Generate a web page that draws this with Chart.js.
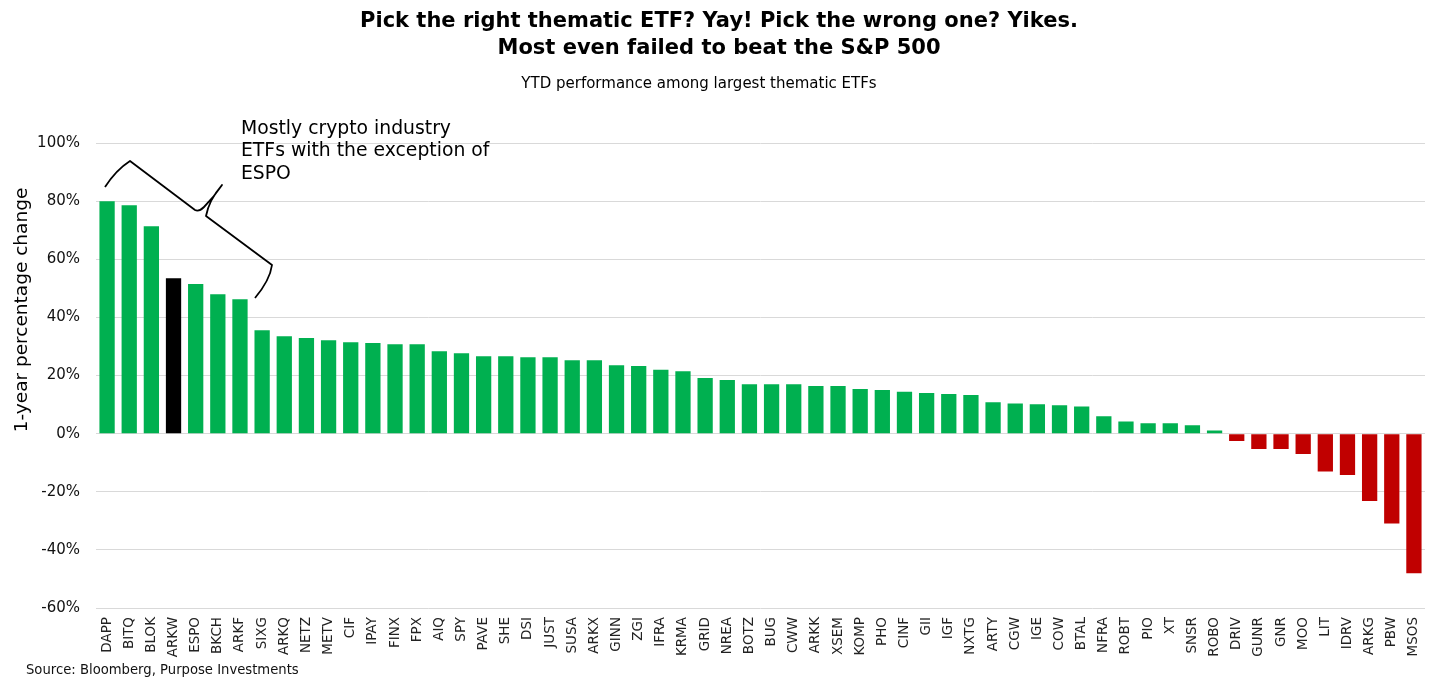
<!DOCTYPE html>
<html><head><meta charset="utf-8">
<style>html,body{margin:0;padding:0;background:#fff}canvas{display:block}</style>
<script src="https://cdn.jsdelivr.net/npm/chart.js@4"></script></head>
<body><canvas id="c" width="1429" height="681"></canvas>
<script>
const categories=["DAPP","BITQ","BLOK","ARKW","ESPO","BKCH","ARKF","SIXG","ARKQ","NETZ","METV","CIF","IPAY","FINX","FPX","AIQ","SPY","PAVE","SHE","DSI","JUST","SUSA","ARKX","GINN","ZGI","IFRA","KRMA","GRID","NREA","BOTZ","BUG","CWW","ARKK","XSEM","KOMP","PHO","CINF","GII","IGF","NXTG","ARTY","CGW","IGE","COW","BTAL","NFRA","ROBT","PIO","XT","SNSR","ROBO","DRIV","GUNR","GNR","MOO","LIT","IDRV","ARKG","PBW","MSOS"];
const values=[80,78.6,71.4,53.5,51.5,48,46.3,35.6,33.5,32.9,32.2,31.5,31.2,30.8,30.8,28.4,27.7,26.7,26.7,26.3,26.3,25.3,25.3,23.6,23.3,22,21.5,19.2,18.5,17,17,17,16.4,16.4,15.4,15,14.4,14,13.7,13.3,10.8,10.4,10.1,9.8,9.4,6,4.2,3.6,3.6,2.9,1.1,-2.5,-5.3,-5.3,-7,-13,-14.2,-23.2,-30.9,-48];
const highlighted=["ARKW"];
const titleLines=["Pick the right thematic ETF? Yay! Pick the wrong one? Yikes.","Most even failed to beat the S&P 500"];
const subtitleText="YTD performance among largest thematic ETFs";
const yAxisTitle="1-year percentage change";
const sourceText="Source: Bloomberg, Purpose Investments";
const noteLines=["Mostly crypto industry","ETFs with the exception of","ESPO"];
const FONT="'DejaVu Sans'";
const overlay={id:'overlay',afterDraw(chart){
  const c=chart.ctx;c.save();c.fillStyle='#000';c.textBaseline='middle';
  c.textAlign='center';c.font="15px "+FONT;c.fillText(subtitleText,699,84);
  c.textAlign='left';c.font="18.8px "+FONT;
  noteLines.forEach((t,i)=>c.fillText(t,241,129+i*22.5));
  c.font="13.2px "+FONT;c.fillStyle='#111';c.fillText(sourceText,26,671);
  c.save();c.translate(22,310);c.rotate(-Math.PI/2);c.textAlign='center';c.fillStyle='#000';c.font="18.5px "+FONT;c.fillText(yAxisTitle,0,0);c.restore();
  c.strokeStyle='#000';c.lineWidth=1.8;c.lineJoin='round';c.beginPath();
  c.moveTo(105,187);c.quadraticCurveTo(116,170,130,161);c.lineTo(195,210);c.quadraticCurveTo(199,212,204,207);c.quadraticCurveTo(214,197,222,185);
  c.quadraticCurveTo(209,200,206,216);c.lineTo(272,265);c.quadraticCurveTo(270,280,255,298);c.stroke();
  c.restore();
}};
new Chart(document.getElementById('c'),{type:'bar',
 data:{labels:categories,datasets:[{data:values,
   backgroundColor:categories.map((n,i)=>highlighted.includes(n)?'#000000':values[i]<0?'#c00000':'#00b050'),
   categoryPercentage:1,barPercentage:0.69}]},
 plugins:[overlay],
 options:{responsive:false,animation:false,
  layout:{padding:{left:13,right:4,top:8,bottom:0}},
  plugins:{legend:{display:false},tooltip:{enabled:false},
   title:{display:true,text:titleLines,color:'#000',font:{family:FONT,size:21,weight:'bold',lineHeight:1.29},padding:{top:0,bottom:81}}},
  scales:{
   x:{grid:{display:false},border:{display:false},
      afterFit(s){s.height=73;s.paddingLeft=0;s.paddingRight=0;},
      ticks:{autoSkip:false,minRotation:90,maxRotation:90,color:'#222',padding:1,font:{family:FONT,size:13.5}}},
   y:{min:-60,max:100,afterFit(s){s.width=83;s.paddingTop=0;s.paddingBottom=0;},
      grid:{color:'#d9d9d9',lineWidth:1,drawTicks:false},border:{display:false},
      ticks:{stepSize:20,padding:16,color:'#111',font:{family:FONT,size:15},callback:v=>v+'%'}}
  }}});
</script></body></html>
